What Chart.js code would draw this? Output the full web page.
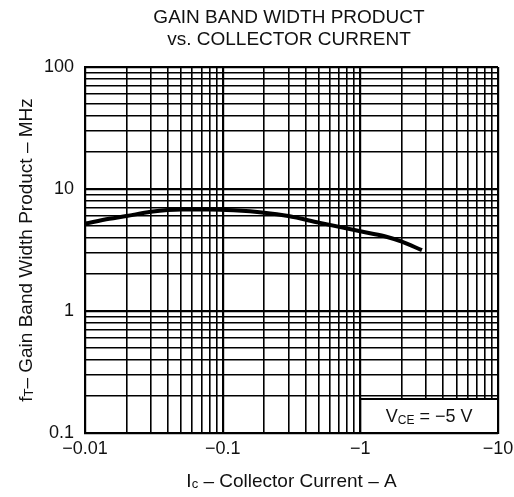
<!DOCTYPE html>
<html>
<head>
<meta charset="utf-8">
<script src="https://cdn.jsdelivr.net/npm/chart.js@4.4.1/dist/chart.umd.min.js"></script>
<style>
  html, body { margin: 0; padding: 0; background: #fff; }
  #wrap { width: 514px; height: 497px; }
</style>
</head>
<body>
<div id="wrap"><canvas id="c" width="514" height="497"></canvas></div>
<script>
// Collector current (A, negative as in the datasheet) and gain-bandwidth product (MHz)
const collectorCurrentA = [-0.01, -0.015, -0.02, -0.03, -0.05, -0.08, -0.12, -0.2, -0.3, -0.5, -1.0, -1.5, -2.0, -2.8];
const gainBandwidthMHz  = [5.2, 5.7, 6.0, 6.5, 6.8, 6.8, 6.7, 6.4, 6.0, 5.3, 4.5, 4.1, 3.7, 3.15];

// Axis decades and their labels
const xDecades = [0.01, 0.1, 1, 10];
const xTickLabels = ['\u22120.01', '\u22120.1', '\u22121', '\u221210'];
const yDecades = [0.1, 1, 10, 100];
const yTickLabels = ['0.1', '1', '10', '100'];

// Annotation
const vceLabel = { main: 'V', sub: 'CE', rest: ' = \u22125 V' };
const vceBox = { x0: 1, x1: 10, y0: 0.1, y1: 0.19 };

const FONT = '"Liberation Sans", Arial, Helvetica, sans-serif';

function logTicks(decades) {
  const out = [];
  for (let i = 0; i < decades.length; i++) {
    const d = decades[i];
    if (i === decades.length - 1) { out.push(d); break; }
    for (let k = 1; k <= 9; k++) out.push(+(d * k).toPrecision(6));
  }
  return out;
}
function decadeIndex(v, decades) {
  for (let i = 0; i < decades.length; i++) {
    if (Math.abs(v - decades[i]) / decades[i] < 1e-6) return i;
  }
  return -1;
}

function drawRich(ctx, parts, cx, cy, size) {
  let total = 0;
  const widths = parts.map(p => {
    ctx.font = (p.sub ? Math.round(size * 0.66) : size) + 'px ' + FONT;
    const w = ctx.measureText(p.t).width;
    total += w;
    return w;
  });
  let x = cx - total / 2;
  ctx.textAlign = 'left';
  ctx.textBaseline = 'alphabetic';
  const base = cy + size * 0.35;
  parts.forEach((p, i) => {
    ctx.font = (p.sub ? Math.round(size * 0.66) : size) + 'px ' + FONT;
    ctx.fillText(p.t, x, base + (p.sub ? size * 0.08 : 0));
    x += widths[i];
  });
}

const textPlugin = {
  id: 'textPlugin',
  afterDraw(chart) {
    const ctx = chart.ctx;
    const xs = chart.scales.x, ys = chart.scales.y;
    ctx.save();
    ctx.fillStyle = '#111';
    // Title
    ctx.font = '19px ' + FONT;
    ctx.textAlign = 'center';
    ctx.textBaseline = 'middle';
    ctx.fillText('GAIN BAND WIDTH PRODUCT', 289, 18);
    ctx.fillText('vs. COLLECTOR CURRENT', 289, 40);

    // Y axis title
    ctx.save();
    ctx.translate(25, (chart.chartArea.top + chart.chartArea.bottom) / 2);
    ctx.rotate(-Math.PI / 2);
    drawRich(ctx, [{t: 'f'}, {t: 'T', sub: true}, {t: '\u2013 Gain Band Width Product \u2013 MHz'}], 0, 0, 19);
    ctx.restore();

    // X axis title
    drawRich(ctx, [{t: 'I'}, {t: 'c', sub: true}, {t: ' \u2013 Collector Current \u2013 A'}],
      (chart.chartArea.left + chart.chartArea.right) / 2, 480, 19);

    // VCE box
    const bx0 = xs.getPixelForValue(vceBox.x0), bx1 = xs.getPixelForValue(vceBox.x1);
    const by0 = ys.getPixelForValue(vceBox.y1), by1 = ys.getPixelForValue(vceBox.y0);
    ctx.fillStyle = '#fff';
    ctx.fillRect(bx0, by0, bx1 - bx0, by1 - by0);
    ctx.strokeStyle = '#000';
    ctx.lineWidth = 2;
    ctx.strokeRect(bx0, by0, bx1 - bx0, by1 - by0);
    ctx.fillStyle = '#111';
    drawRich(ctx, [{t: vceLabel.main}, {t: vceLabel.sub, sub: true}, {t: vceLabel.rest}],
      (bx0 + bx1) / 2, (by0 + by1) / 2, 18);
    ctx.restore();
  }
};

const data = {
  datasets: [{
    data: collectorCurrentA.map((x, i) => ({ x: Math.abs(x), y: gainBandwidthMHz[i] })),
    borderColor: '#000',
    borderWidth: 4,
    pointRadius: 0,
    cubicInterpolationMode: 'monotone',
    fill: false
  }]
};

new Chart(document.getElementById('c'), {
  type: 'line',
  data,
  plugins: [textPlugin],
  options: {
    responsive: false,
    animation: false,
    devicePixelRatio: 1,
    layout: { padding: { top: 67, right: 16, left: 0, bottom: 0 } },
    plugins: { legend: { display: false }, tooltip: { enabled: false }, title: { display: false } },
    scales: {
      x: {
        type: 'logarithmic',
        min: 0.01, max: 10,
        afterBuildTicks: s => { s.ticks = logTicks(xDecades).map(v => ({ value: v })); },
        afterFit: s => { s.height = 64; s.paddingLeft = 0; s.paddingRight = 0; },
        border: { display: true, color: '#000', width: 2 },
        grid: {
          color: '#000',
          drawTicks: false,
          lineWidth: c => decadeIndex(c.tick.value, xDecades) >= 0 ? 2.2 : 1.6
        },
        ticks: {
          autoSkip: false,
          maxRotation: 0,
          padding: 5,
          color: '#111',
          font: { family: FONT, size: 18 },
          callback: v => { const i = decadeIndex(v, xDecades); return i >= 0 ? xTickLabels[i] : ''; }
        }
      },
      y: {
        type: 'logarithmic',
        min: 0.1, max: 100,
        afterBuildTicks: s => { s.ticks = logTicks(yDecades).map(v => ({ value: v })); },
        afterFit: s => { s.width = 85; },
        border: { display: true, color: '#000', width: 2 },
        grid: {
          color: '#000',
          drawTicks: false,
          lineWidth: c => decadeIndex(c.tick.value, yDecades) >= 0 ? 2.2 : 1.6
        },
        ticks: {
          autoSkip: false,
          padding: 11,
          color: '#111',
          font: { family: FONT, size: 18 },
          callback: v => { const i = decadeIndex(v, yDecades); return i >= 0 ? yTickLabels[i] : ''; }
        }
      }
    }
  }
});
</script>
</body>
</html>
